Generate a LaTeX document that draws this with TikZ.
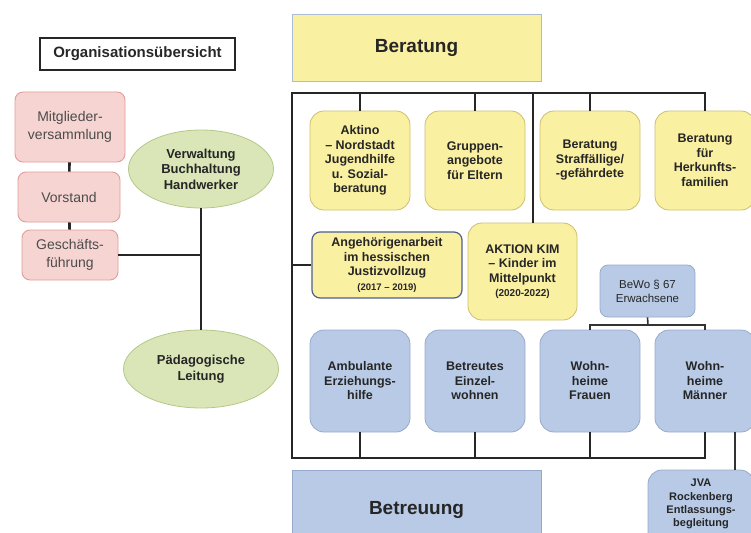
\documentclass[tikz,border=0pt]{standalone}
\usepackage{fontspec}
\setmainfont{Liberation Sans}
\usetikzlibrary{shapes.geometric, positioning}

\definecolor{gelb}{HTML}{FAF0A2}
\definecolor{gelbrand}{HTML}{CDBE6E}
\definecolor{blau}{HTML}{B8CAE6}
\definecolor{blaurand}{HTML}{98AACB}
\definecolor{rosa}{HTML}{F6D4D2}
\definecolor{rosarand}{HTML}{E39C99}
\definecolor{gruen}{HTML}{DAE6B8}
\definecolor{gruenrand}{HTML}{B3C888}
\definecolor{dunkelblau}{HTML}{4F5F8F}

\begin{document}
\begin{tikzpicture}[x=1pt, y=-1pt,
  txt/.style={align=center, inner sep=2pt, text=black!85},
  small/.style={font=\fontsize{12.5}{14.5}\selectfont\bfseries},
  gelbbox/.style={txt, small, draw=gelbrand, fill=gelb, line width=0.8pt, rounded corners=14pt},
  blaubox/.style={txt, small, draw=blaurand, fill=blau, line width=0.8pt, rounded corners=14pt},
  rosabox/.style={txt, draw=rosarand, fill=rosa, line width=0.9pt, rounded corners=8pt,
    font=\fontsize{14}{18}\selectfont, text=black!70},
  oval/.style={txt, ellipse, draw=gruenrand, fill=gruen, line width=0.8pt, inner sep=0pt,
    font=\fontsize{13}{15.5}\selectfont\bfseries},
  titel/.style={txt, font=\fontsize{19}{22}\selectfont\bfseries, line width=0.8pt},
  strich/.style={line width=2.6pt, black!85},
  duenn/.style={line width=1.6pt, black!80}
]
\useasboundingbox (0,0) rectangle (751,532);

% linke Seite
\node[txt, draw=black!85, line width=2.4pt, minimum width=195pt, minimum height=32pt,
  font=\fontsize{15}{16}\selectfont\bfseries] (uebersicht) at (137.5,54) {Organisationsübersicht};

\node[rosabox, minimum width=110pt, minimum height=70pt] (mv) at (70,127) {Mitglieder-\\versammlung};
\node[rosabox, minimum width=102pt, minimum height=50pt] (vorstand) at (69,197) {Vorstand};
\node[rosabox, minimum width=96pt, minimum height=50pt] (gf) at (70,255) {Geschäfts-\\führung};

\node[oval, minimum width=145pt, minimum height=78pt] (verw) at (201,169) {Verwaltung\\Buchhaltung\\Handwerker};
\node[oval, minimum width=155pt, minimum height=78pt] (paed) at (201,369) {Pädagogische\\Leitung};

\draw[strich] (mv) -- (vorstand);
\draw[strich] (vorstand) -- (gf);
\draw[strich] (verw) -- (paed);
\draw[strich] (gf.east) -- (gf.east -| verw.south);

% Beratung
\node[titel, draw=blaurand!80, fill=gelb, minimum width=249pt, minimum height=67pt] (beratung) at (416.5,47.5) {Beratung};

\node[gelbbox, minimum width=100pt, minimum height=99pt] (aktino) at (360,160.5)
  {Aktino\\– Nordstadt\\Jugendhilfe\\u. Sozial-\\beratung};
\node[gelbbox, minimum width=100pt, minimum height=99pt] (gruppen) at (475,160.5)
  {Gruppen-\\angebote\\für Eltern};
\node[gelbbox, minimum width=100pt, minimum height=99pt] (straf) at (590,160.5)
  {Beratung\\Straffällige/\\-gefährdete};
\node[gelbbox, minimum width=100pt, minimum height=99pt] (herkunft) at (705,160.5)
  {Beratung\\für\\Herkunfts-\\familien};

\node[gelbbox, draw=dunkelblau, line width=1.2pt, rounded corners=8pt, minimum width=150pt, minimum height=66pt] (angeh) at (387,265)
  {Angehörigenarbeit\\im hessischen\\Justizvollzug\\{\fontsize{9.5}{12}\selectfont (2017 – 2019)}};
\node[gelbbox, minimum width=109pt, minimum height=97pt] (kim) at (522.5,271.5)
  {AKTION KIM\\– Kinder im\\Mittelpunkt\\{\fontsize{10}{12}\selectfont (2020-2022)}};

% Betreuung
\node[blaubox, rounded corners=8pt, font=\fontsize{11.5}{14}\selectfont, minimum width=95pt, minimum height=52pt] (bewo) at (647.5,291)
  {BeWo § 67\\Erwachsene};

\node[blaubox, minimum width=100pt, minimum height=102pt] (ambulant) at (360,381)
  {Ambulante\\Erziehungs-\\hilfe};
\node[blaubox, minimum width=100pt, minimum height=102pt] (einzel) at (475,381)
  {Betreutes\\Einzel-\\wohnen};
\node[blaubox, minimum width=100pt, minimum height=102pt] (frauen) at (590,381)
  {Wohn-\\heime\\Frauen};
\node[blaubox, minimum width=100pt, minimum height=102pt] (maenner) at (705,381)
  {Wohn-\\heime\\Männer};

\node[titel, draw=blaurand, fill=blau, minimum width=249pt, minimum height=80pt] (betreuung) at (416.5,510) {Betreuung};
\node[blaubox, font=\fontsize{11}{13.3}\selectfont\bfseries, minimum width=106pt, minimum height=80pt, text depth=14pt] (jva) at (701,510)
  {JVA\\Rockenberg\\Entlassungs-\\begleitung};

% Rahmen
\coordinate (oben) at (292,93);
\coordinate (unten) at (292,458);
\coordinate (kimlinie) at (533,0);
\coordinate (jvalinie) at (735,0);
\draw[strich] (herkunft.north) |- (oben) -- (unten) -| (maenner.south);
\foreach \n in {aktino, gruppen, straf}
  \draw[strich] (\n.north) -- (\n.north |- oben);
\foreach \n in {ambulant, einzel, frauen}
  \draw[strich] (\n.south) -- (\n.south |- unten);
\draw[strich] (kim.north -| kimlinie) -- (oben -| kimlinie);
\draw[strich] (angeh.west) -- (angeh.west -| oben);

% BeWo Klammer
\coordinate (klammer) at (648,325);
\draw[duenn] (bewo.south) -- (klammer);
\draw[duenn] (frauen.north) |- (klammer) -| (maenner.north);
\draw[duenn] (jva.north -| jvalinie) -- (maenner.south -| jvalinie);
\end{tikzpicture}
\end{document}
